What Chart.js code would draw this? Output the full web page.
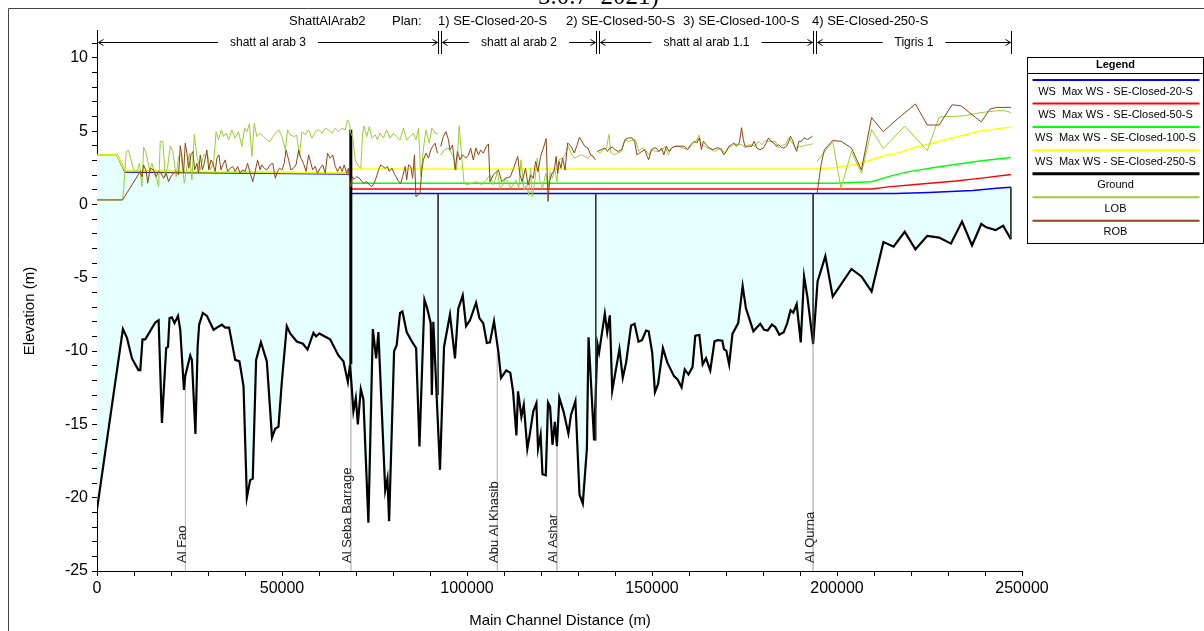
<!DOCTYPE html>
<html>
<head>
<meta charset="utf-8">
<title>ShattAlArab2 profile</title>
<script src="https://cdn.jsdelivr.net/npm/chart.js@4.4.1/dist/chart.umd.min.js"></script>
<style>
  html, body { margin: 0; padding: 0; background: #fff; }
  canvas { display: block; }
</style>
</head>
<body>
<canvas id="profile" width="1204" height="631"></canvas>
<script>
// distances in m, elevations in m
const ground = [
  [0,-20.8],[7000,-8.5],[8100,-9.1],[9450,-10.5],[11200,-11.3],[11700,-11.3],[12300,-9.2],[13050,-9.2],
  [15750,-8.05],[16650,-7.9],[17550,-14.9],[18700,-9.8],[19200,-9.7],[19600,-7.75],[20250,-7.7],[20950,-8.1],
  [21900,-7.6],[22500,-8.55],[23500,-12.65],[23850,-11.7],[25200,-10.3],[25650,-10.6],[26600,-15.65],[27200,-9.7],
  [27600,-8.2],[28600,-7.4],[29700,-7.6],[31500,-8.55],[32400,-8.4],[33750,-8.2],[34650,-8.4],[35700,-8.4],
  [37350,-10.6],[38500,-10.7],[39600,-12.4],[40500,-20.0],[41400,-18.8],[42100,-18.7],[43000,-10.6],[44300,-9.4],
  [45900,-10.7],[47300,-15.9],[48150,-15.3],[49050,-15.15],[50000,-11.95],[51300,-8.3],[52200,-8.8],[54000,-9.35],
  [55650,-9.5],[56900,-9.9],[58500,-8.75],[59200,-9.0],[60100,-8.8],[61200,-8.95],[63000,-9.2],[65250,-10.3],
  [66600,-10.7],[67800,-12.1],[68400,-10.9],[69300,-14.1],[69950,-13.2],[70500,-15.0],[71300,-12.6],[72000,-13.3],
  [73350,-21.7],[74550,-8.5],[75450,-10.5],[76050,-8.7],[77900,-19.5],[78500,-18.7],[78950,-21.6],[80300,-10.0],
  [81000,-9.6],[81900,-7.4],[82550,-7.3],[83700,-8.7],[85100,-9.35],[86250,-9.8],[87150,-16.5],[88500,-6.5],
  [89150,-7.0],[90200,-8.1],[90500,-13.0],[90900,-8.0],[92700,-18.1],[93800,-9.7],[95400,-7.5],[96750,-10.5],
  [97650,-7.1],[98850,-6.2],[99750,-8.3],[100800,-7.9],[102450,-6.7],[103350,-7.75],[104400,-8.1],[105350,-9.45],
  [106200,-9.41],[107300,-7.96],[108500,-10.1],[109200,-11.83],[110600,-11.32],[111700,-11.48],[112450,-12.75],
  [113350,-15.75],[113800,-12.75],[114700,-14.48],[115350,-13.67],[116300,-16.67],[117000,-15.63],[117900,-14.13],
  [118750,-13.56],[119200,-16.67],[119900,-15.7],[120400,-18.4],[121300,-18.47],[121900,-13.51],[122450,-13.79],
  [123100,-16.39],[123750,-14.82],[124300,-16.48],[124950,-13.17],[126100,-14.13],[127400,-15.63],[128100,-14.36],
  [129300,-13.4],[130400,-19.78],[131300,-20.4],[132400,-16.67],[132850,-9.06],[134350,-16.09],[135250,-9.52],
  [135700,-10.1],[137250,-7.45],[137900,-8.72],[138600,-7.56],[139250,-12.7],[141200,-9.87],[142100,-11.83],
  [143000,-10.79],[144350,-8.26],[145300,-8.14],[146350,-9.36],[147300,-9.25],[148400,-8.6],[149100,-8.65],
  [150050,-10.1],[150800,-12.8],[151650,-12.24],[152950,-9.8],[154150,-10.79],[155950,-11.71],[156900,-11.94],
  [158000,-12.47],[158850,-11.25],[159850,-11.6],[160950,-11.09],[161700,-8.95],[162800,-8.9],[163700,-10.91],
  [164600,-10.49],[165750,-11.32],[166900,-9.34],[167800,-9.25],[169000,-9.29],[169450,-9.87],[170100,-9.98],
  [170850,-10.91],[171750,-8.83],[173300,-8.09],[174500,-5.56],[175400,-7.1],[176300,-7.79],[177400,-8.65],
  [179250,-8.14],[180300,-8.55],[181250,-8.6],[182400,-8.19],[183350,-8.37],[184400,-8.88],[185600,-8.72],
  [186550,-8.09],[187450,-7.22],[188200,-7.38],[189100,-6.8],[190200,-9.41],[191100,-4.9],[192000,-6.3],
  [193550,-9.52],[194750,-5.25],[196850,-3.52],[198850,-6.29],[203900,-4.4],[206600,-4.91],[209350,-5.94],
  [212550,-2.56],[215300,-2.88],[218300,-1.86],[221200,-3.06],[224400,-2.14],[227600,-2.26],[230800,-2.67],
  [233800,-1.17],[236500,-2.79],[239000,-1.33],[240350,-1.56],[242850,-1.75],[244900,-1.45],[247000,-2.37]
];

const ws20 = [[0,3.38],[5400,3.38],[7600,2.22],[68600,2.07],[68700,0.75],[215700,0.75],[224800,0.82],[236700,0.95],[243100,1.1],[247000,1.17]];
const ws50 = [[0,3.38],[5400,3.38],[7600,2.26],[68600,2.11],[68700,1.05],[209350,1.05],[213900,1.2],[221200,1.36],[232100,1.6],[238550,1.78],[247000,2.05]];
const ws100 = [[0,3.38],[5400,3.38],[7600,2.28],[68600,2.13],[68700,1.45],[199300,1.45],[209350,1.55],[213900,1.9],[219400,2.24],[227600,2.58],[238550,2.97],[247000,3.2]];
const ws250 = [[0,3.38],[5400,3.38],[7600,2.3],[68600,2.15],[68700,2.42],[193500,2.42],[199300,2.5],[205700,2.75],[209350,3.05],[213000,3.35],[215700,3.45],[221200,3.9],[227600,4.3],[234000,4.72],[238550,5.0],[243000,5.15],[247000,5.28]];

const lob = [
  [0,0.31],[6900,0.31],[7200,1.0],[7900,3.61],[8550,3.68],[9200,3.04],[9900,2.36],[10800,2.25],[11500,2.81],[12150,1.22],
  [12600,3.9],[13300,3.5],[14200,2.36],[14850,2.81],[15500,2.13],[16200,1.68],[16650,1.22],[17100,4.29],[17800,4.29],
  [18450,1.9],[19100,2.59],[19800,4.0],[20500,3.61],[21400,1.9],[22050,3.27],[22700,3.38],[23600,1.45],[24300,2.59],
  [25000,3.5],[25650,1.68],[26300,4.8],[27000,3.27],[27900,2.36],[28800,3.38],[29900,3.38],[30600,2.36],[31500,2.81],
  [32200,4.97],[32850,4.41],[33600,5.09],[34200,4.63],[34900,4.86],[35600,4.41],[36450,5.09],[37350,4.52],[38250,4.97],
  [39150,3.95],[39900,5.2],[40500,4.97],[41200,5.5],[41850,3.27],[42500,5.54],[43200,4.63],[44100,4.86],[45000,4.63],
  [45900,4.41],[46800,4.29],[47500,4.63],[48200,4.86],[49100,5.09],[50000,4.63],[50900,3.72],[51500,5.09],[52200,4.75],
  [53300,4.63],[54000,4.75],[54700,3.27],[55400,4.97],[56300,4.75],[57200,5.09],[58100,4.52],[59000,4.97],[59900,5.09],
  [60800,4.86],[61700,5.2],[62600,5.09],[63500,4.86],[64400,5.2],[65300,4.97],[66200,5.2],[67100,5.09],[67700,5.77],
  [68200,5.54],[68600,4.86],[69100,4.63],[69800,3.04],[70700,2.59],[71300,2.47],[71800,4.86],[72200,5.36],[72900,4.63],
  [73600,5.31],[74300,4.52],[75200,4.75],[75800,4.41],[76500,4.86],[77400,4.52],[78300,5.09],[79200,4.52],[80100,4.86],
  [81000,4.63],[81900,4.41],[82800,5.2],[83700,4.41],[84600,4.63],[85500,4.86],[86200,4.41],[86900,5.2],[87500,1.9],
  [88200,3.72],[88900,5.09],[89800,4.18],[90500,5.2],[91400,4.86],[92100,4.86],
  [92500,null],
  [92900,3.38],[93800,3.72],[95000,3.84],[96300,3.27],[97200,2.36],[97900,5.36],[98600,3.16],[99200,1.45],[99900,1.34],
  [101300,1.45],[102600,1.56],[104000,1.34],[105300,1.68],[106200,2.01],[107000,1.32],[107600,1.66],[108200,2.24],
  [109000,1.09],[109700,1.32],[110300,1.78],[111200,1.43],[111900,1.09],[112600,1.43],[113300,1.66],[114000,1.09],
  [114600,3.05],[115400,0.97],[116100,1.32],[116700,0.63],[117200,2.47],[117600,0.51],[118300,1.55],[119000,3.16],
  [119700,1.66],[120400,1.09],[121300,2.12],[121900,1.09],[122500,2.24],[123100,1.78],[123700,2.47],[124300,1.55],
  [124900,3.05],[125800,3.16],[126500,3.39],[127400,3.97],[128100,3.51],[129000,3.16],[129950,3.28],[130900,3.39],
  [131800,3.28],[132700,3.16],[133600,3.39],[134700,3.05],
  [135000,null],
  [135200,3.62],[135900,3.51],[136800,3.74],[137700,3.85],[138350,4.77],[138900,3.51],[139800,3.39],[140700,3.51],
  [141800,3.62],[142700,4.43],[143600,4.31],[144600,4.36],[145500,4.43],[146400,3.62],[147300,3.85],[148200,3.74],
  [149100,3.39],[150000,3.74],[150900,3.62],[151900,3.62],[152800,3.74],[153500,3.97],[154400,3.39],[155300,3.85],
  [156200,3.97],[157300,3.97],[158400,3.85],[159600,3.74],[161000,4.08],[161900,4.31],[162800,4.73],[163350,4.08],
  [164200,3.97],[165100,3.85],[166000,3.74],[166900,3.62],[167800,3.74],[168700,3.85],[169600,3.51],[170600,3.85],
  [171500,3.97],[172400,4.13],[173300,4.08],[174200,4.08],[175100,3.85],[176000,4.04],[176950,4.08],[177900,3.97],
  [178800,4.31],[179700,4.08],[180600,4.36],[181500,4.31],[182400,4.31],[183300,4.31],[184200,3.85],[185200,4.04],
  [186100,4.08],[187000,4.54],[187900,4.2],[188800,3.85],[189700,3.97],[190600,3.97],[191500,4.04],[192500,4.08],
  [193400,4.13],
  [194000,null],
  [194600,2.93],[198850,4.31],[201100,1.09],[203900,3.62],[206600,2.12],[209350,5.12],[212500,3.81],[218300,5.35],
  [224400,3.67],[227600,5.97],[234000,6.04],[239000,6.27],[243100,6.39],[244900,6.43],[247000,6.27]
];

const rob = [
  [0,0.31],[6900,0.31],[11700,2.25],[12150,1.9],[12600,2.7],[13300,2.25],[13700,1.45],[14400,2.47],[15300,2.36],
  [16000,1.9],[16650,2.25],[17300,2.13],[18000,1.79],[18700,2.13],[19350,1.56],[20000,1.9],[20700,2.13],[21400,2.25],
  [22050,2.02],[22500,4.0],[22950,3.27],[23400,2.13],[23850,4.18],[24300,3.5],[24800,2.47],[25400,3.38],[25900,3.61],
  [26400,2.36],[27000,2.81],[27450,2.13],[27900,3.38],[28500,2.36],[29000,2.81],[29700,3.72],[30200,2.36],[30800,3.04],
  [31300,2.81],[31950,2.25],[32400,3.16],[32950,3.38],[33500,2.36],[34000,2.7],[34650,3.04],[35300,2.25],[36000,2.47],
  [36700,2.59],[37350,2.25],[38000,2.59],[38700,2.13],[39400,2.36],[40050,2.25],[40700,2.81],[41400,2.13],[42100,1.56],
  [42750,2.25],[43400,3.04],[44100,2.36],[44550,2.7],[45200,2.47],[45900,2.36],[46800,2.7],[47500,2.81],[48200,1.79],
  [48800,2.25],[49300,2.47],[50000,2.36],[50600,2.81],[51100,3.72],[51800,3.04],[52400,2.36],[53100,2.47],[53800,2.7],
  [54500,3.72],[55100,3.16],[55800,2.81],[56500,2.25],[57200,3.38],[57800,2.81],[58300,2.36],[59000,2.59],[59600,2.13],
  [60300,2.47],[61000,2.7],[61700,2.13],[62300,3.5],[63000,3.16],[63700,3.38],[64400,2.59],[65000,2.25],[65700,2.59],
  [66250,2.25],[66800,2.7],[67500,2.13],[67950,2.47],[68400,1.45],[68600,1.22],[69000,1.9],[69500,1.72],[70200,1.9],
  [70900,1.79],[71600,1.56],[72200,1.45],[72900,1.56],[73600,1.34],[74300,1.22],[74900,1.45],[75400,1.79],[76100,2.36],
  [76700,2.7],[77200,2.59],[77900,2.47],[78500,2.59],[79000,2.25],[79700,2.47],[80300,2.13],[80800,1.9],[81500,1.56],
  [82100,1.45],[82600,1.9],[83300,2.59],[83700,1.68],[84200,2.7],[84800,2.59],[85300,1.79],[85800,3.38],[86200,0.54],
  [86900,0.65],[87300,0.77],[87800,2.36],[88200,3.04],[88900,3.5],[89600,3.16],[90200,3.72],[90700,3.95],[91400,4.18],
  [92000,3.5],
  [92500,null],
  [92900,3.95],[93600,4.63],[94300,4.97],[95000,4.41],[95400,3.72],[96100,4.06],[96800,2.36],[97400,3.61],[98100,3.04],
  [98800,3.38],[99700,3.16],[100400,3.38],[101000,3.84],[101700,3.04],[102400,3.84],[103100,3.38],[103700,3.72],
  [104400,3.5],[105200,3.95],[105800,4.13],[106200,1.55],[107100,2.01],[108500,2.35],[109400,1.55],[110300,1.78],
  [111700,1.89],[112600,2.47],[113700,3.28],[114300,2.01],[114900,1.55],[115800,2.47],[116500,1.32],[117200,2.01],
  [117900,1.78],[118550,2.93],[119200,2.24],[119900,3.28],[120650,3.85],[121400,4.5],[121900,0.21],[122300,1.55],
  [122800,2.01],[123600,2.35],[124100,3.28],[124500,2.12],[124900,2.93],[125400,2.47],[125850,3.16],[126500,2.35],
  [127200,4.2],[128100,3.97],[129000,3.51],[129800,4.08],[130400,4.59],[131050,4.31],[131800,3.97],[132700,3.85],
  [133400,3.39],[134100,3.28],[134700,3.05],
  [135000,null],
  [135250,3.62],[136300,3.74],[137300,3.85],[138000,3.62],[138600,3.85],[139300,3.9],[140000,3.74],[140900,3.62],
  [141800,3.74],[142700,4.43],[143600,4.54],[144600,4.54],[145300,4.31],[145900,3.39],[146600,3.51],[147300,3.62],
  [148000,3.74],[148700,3.28],[149100,3.05],[149850,3.74],[150500,3.85],[151100,3.85],[151900,3.62],[152600,3.85],
  [153200,3.39],[153900,3.97],[154600,3.62],[155300,3.85],[156200,3.97],[157300,3.97],[158700,3.97],[159600,3.74],
  [160500,4.08],[161400,4.31],[162100,4.2],[162800,4.54],[163350,3.74],[163900,4.31],[164600,4.08],[165500,3.85],
  [166450,3.74],[167400,3.85],[168100,3.85],[168700,3.74],[169400,3.39],[170100,3.62],[170800,3.97],[171500,4.08],
  [172100,4.2],[172800,3.97],[173600,4.2],[174200,5.24],[174700,4.43],[175100,3.97],[176000,3.97],[176950,3.97],
  [177600,4.31],[178300,3.85],[179200,3.74],[180100,3.85],[180900,4.2],[181500,4.54],[182150,4.31],[182900,4.2],
  [183600,3.97],[184200,4.08],[184900,3.9],[185600,3.85],[186350,3.97],[187000,4.31],[187400,4.66],[187900,4.43],
  [188400,4.08],[189100,3.62],[189700,4.31],[190400,4.31],[191100,4.54],[192000,4.43],[192700,4.54],[193400,4.66],
  [194000,null],
  [194600,0.74],[195700,2.7],[196600,3.74],[198850,4.36],[201100,4.31],[203900,3.85],[206600,2.35],[209350,5.93],
  [212500,4.96],[215700,5.7],[221200,6.85],[224400,5.42],[227600,5.42],[231100,6.8],[233500,6.73],[239000,5.63],
  [241300,6.5],[243100,6.62],[247000,6.62]
];

// reach junction lines (water surface down to bed) and the barrage
const junctions = [[92200,0.75],[92200,-13.0],[92250,null],[134800,0.75],[134800,-16.1],[134850,null],
  [193550,0.75],[193550,-9.5],[193600,null],[247000,1.17],[247000,-2.37]];
const barrage = [[68600,5.1],[68600,-10.9]];

// named river stations
const locNames = ['Al Fao', 'Al Seba Barrage', 'Abu Al Khasib', 'Al Ashar', 'Al Qurna'];
const locDist = [23900, 68600, 108200, 124300, 193550];
const locBed = [-11.7, -10.9, -10.1, -16.4, -9.5];

// reaches along the top
const reachNames = ['shatt al arab 3', 'shatt al arab 2', 'shatt al arab 1.1', 'Tigris 1'];
const reachBounds = [0, 92200, 134800, 193550, 247000];

const legendNames = ['WS  Max WS - SE-Closed-20-S', 'WS  Max WS - SE-Closed-50-S',
  'WS  Max WS - SE-Closed-100-S', 'WS  Max WS - SE-Closed-250-S', 'Ground', 'LOB', 'ROB'];

const FONT = '"Liberation Sans", Arial, sans-serif';
Chart.defaults.font.family = FONT;
Chart.defaults.color = '#000';

const locLines = [];
locDist.forEach((d, i) => {
  if (i > 0) locLines.push([d - 50, null]);
  locLines.push([d, locBed[i]], [d, -25]);
});

const extras = {
  id: 'extras',
  afterDraw(chart) {
    const ctx = chart.ctx;
    const xs = chart.scales.x;
    ctx.save();

    // page frame
    ctx.strokeStyle = '#444';
    ctx.lineWidth = 1;
    ctx.beginPath();
    ctx.moveTo(8.5, 631); ctx.lineTo(8.5, 8.5); ctx.lineTo(1204, 8.5);
    ctx.stroke();

    // clipped caption at very top
    ctx.fillStyle = '#000';
    ctx.font = '25px "Liberation Serif", serif';
    ctx.textAlign = 'left';
    ctx.textBaseline = 'alphabetic';
    ctx.fillText('5.0.7  2021)', 538, 4);

    // plan title
    ctx.font = '13px ' + FONT;
    ctx.textBaseline = 'middle';
    const titleParts = [['ShattAlArab2', 289], ['Plan:', 392], ['1) SE-Closed-20-S', 438],
      ['2) SE-Closed-50-S', 566], ['3) SE-Closed-100-S', 683], ['4) SE-Closed-250-S', 812]];
    titleParts.forEach(([t, px]) => ctx.fillText(t, px, 21));

    // reach arrows
    ctx.font = '12px ' + FONT;
    ctx.textAlign = 'center';
    ctx.strokeStyle = '#000';
    ctx.lineWidth = 1;
    const ay = 42.5;
    for (let i = 0; i < reachNames.length; i++) {
      const b0 = Math.round(xs.getPixelForValue(reachBounds[i])) + 0.5;
      const x0 = i > 0 ? b0 + 3 : b0;
      const x1 = Math.round(xs.getPixelForValue(reachBounds[i + 1])) + 0.5;
      const mid = (x0 + x1) / 2;
      const tw = ctx.measureText(reachNames[i]).width;
      ctx.beginPath();
      ctx.moveTo(b0, 31); ctx.lineTo(b0, 54);
      if (i > 0) { ctx.moveTo(x0, 31); ctx.lineTo(x0, 54); }
      if (i === reachNames.length - 1) { ctx.moveTo(x1, 31); ctx.lineTo(x1, 54); }
      ctx.moveTo(x0 + 1, ay); ctx.lineTo(mid - tw / 2 - 12, ay);
      ctx.moveTo(mid + tw / 2 + 12, ay); ctx.lineTo(x1 - 1, ay);
      ctx.moveTo(x0 + 6, ay - 3); ctx.lineTo(x0 + 1, ay); ctx.lineTo(x0 + 6, ay + 3);
      ctx.moveTo(x1 - 6, ay - 3); ctx.lineTo(x1 - 1, ay); ctx.lineTo(x1 - 6, ay + 3);
      ctx.stroke();
      ctx.fillText(reachNames[i], mid, ay);
    }

    // river station labels
    ctx.font = '13px ' + FONT;
    ctx.fillStyle = '#222';
    ctx.textAlign = 'left';
    ctx.textBaseline = 'alphabetic';
    locNames.forEach((n, i) => {
      const px = xs.getPixelForValue(locDist[i]);
      ctx.save();
      ctx.translate(px + 0.5, 563);
      ctx.rotate(-Math.PI / 2);
      ctx.fillText(n, 0, 0);
      ctx.restore();
    });

    // axis titles
    ctx.fillStyle = '#000';
    ctx.font = '15px ' + FONT;
    ctx.textAlign = 'center';
    ctx.textBaseline = 'middle';
    ctx.fillText('Main Channel Distance (m)', 560, 621);
    ctx.save();
    ctx.translate(30, 311);
    ctx.rotate(-Math.PI / 2);
    ctx.fillText('Elevation (m)', 0, 0);
    ctx.restore();

    // legend box
    const lx0 = 1027.5, lx1 = 1203.5, ly0 = 57.5, ly1 = 243.5;
    ctx.strokeStyle = '#000';
    ctx.lineWidth = 1;
    ctx.strokeRect(lx0, ly0, lx1 - lx0, ly1 - ly0);
    ctx.beginPath();
    ctx.moveTo(lx0, 73.5); ctx.lineTo(lx1, 73.5);
    ctx.stroke();
    ctx.font = 'bold 11px ' + FONT;
    ctx.fillText('Legend', 1115.5, 65);
    ctx.font = '11px ' + FONT;
    legendNames.forEach((name, i) => {
      const ds = chart.data.datasets.find(d => d.label === name);
      const ly = 80 + i * 23.45;
      ctx.strokeStyle = ds.borderColor;
      ctx.lineWidth = name === 'Ground' ? 3 : 2;
      ctx.beginPath();
      ctx.moveTo(1032.5, ly); ctx.lineTo(1199.5, ly);
      ctx.stroke();
      ctx.fillStyle = '#000';
      ctx.fillText(name, 1115.5, ly + 11.5);
    });
    ctx.restore();
  }
};

const line = (label, data, color, width, extra) => Object.assign({
  label, data, borderColor: color, backgroundColor: color, borderWidth: width,
  pointRadius: 0, tension: 0, fill: false, spanGaps: false
}, extra || {});

new Chart(document.getElementById('profile').getContext('2d'), {
  type: 'line',
  data: {
    datasets: [
      line('ROB', rob, '#8b4513', 1),
      line('LOB', lob, '#9acd32', 1),
      line('junctions', junctions, '#333', 1),
      line('Ground', ground, '#000', 2.2),
      line('barrage', barrage, '#000', 3),
      line('WS  Max WS - SE-Closed-250-S', ws250, '#ffff00', 1.5),
      line('WS  Max WS - SE-Closed-100-S', ws100, '#00ff00', 1.5),
      line('WS  Max WS - SE-Closed-50-S', ws50, '#ff0000', 1.5),
      line('WS  Max WS - SE-Closed-20-S', ws20, '#0000ff', 1.5,
        { fill: { target: 3 }, backgroundColor: '#e6ffff' }),
      line('stations', locLines, '#c4c4c4', 1)
    ]
  },
  options: {
    responsive: false,
    animation: false,
    events: [],
    layout: { padding: { left: 0, right: 182, top: 30, bottom: 0 } },
    plugins: { legend: { display: false }, tooltip: { enabled: false } },
    scales: {
      x: {
        type: 'linear', min: 0, max: 250000,
        afterFit: s => { s.height = 60; },
        border: { color: '#000', width: 1 },
        grid: { drawOnChartArea: false, tickLength: 5, color: '#000' },
        ticks: {
          stepSize: 10000, autoSkip: false, maxRotation: 0, padding: 3,
          font: { size: 16 }, color: '#000',
          callback: v => (Math.round(v) % 50000 === 0 ? String(Math.round(v)) : '')
        }
      },
      y: {
        min: -25, max: 11.9,
        afterFit: s => { s.width = 97; },
        border: { color: '#000', width: 1 },
        grid: { drawOnChartArea: false, tickLength: 5, color: '#000' },
        ticks: {
          stepSize: 1, includeBounds: false, autoSkip: false, padding: 4,
          font: { size: 16 }, color: '#000',
          callback: v => (Math.round(v) % 5 === 0 ? String(Math.round(v)) : '')
        }
      }
    }
  },
  plugins: [extras]
});
</script>
</body>
</html>
